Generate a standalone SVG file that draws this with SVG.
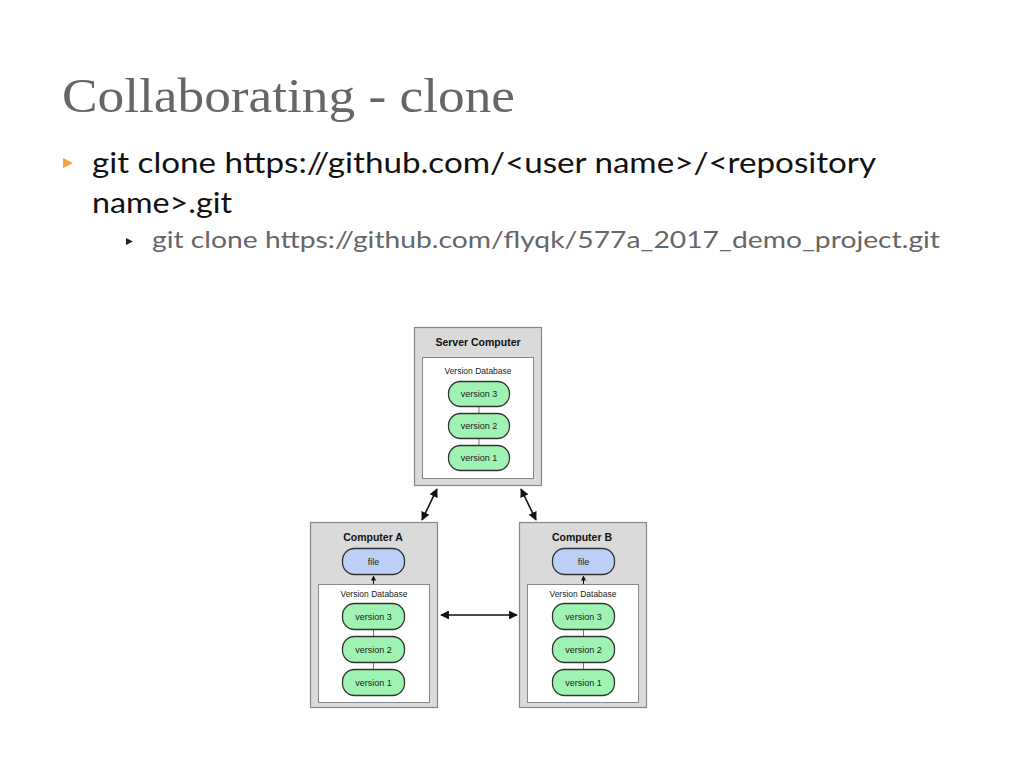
<svg xmlns="http://www.w3.org/2000/svg" width="1024" height="768" viewBox="0 0 1024 768">
<defs>
<style>
.title{font-family:"Liberation Serif","DejaVu Serif",serif;font-size:49px;fill:#666}
.b1{font-family:Lato,"Open Sans",sans-serif;font-size:28px;fill:#111}
.b2{font-family:Lato,"Open Sans",sans-serif;font-size:24px;fill:#666}
.outer{fill:#dadada;stroke:#888;stroke-width:1.2}
.inner{fill:#fff;stroke:#888;stroke-width:1}
.ver{fill:#9ef3b2;stroke:#333;stroke-width:1.3}
.file{fill:#bcd0f7;stroke:#333;stroke-width:1.3}
.h{font-family:"Liberation Sans",Arial,sans-serif;font-size:10.5px;font-weight:bold;fill:#111;text-anchor:middle}
.db{font-family:"Liberation Sans",Arial,sans-serif;font-size:8.5px;fill:#222;text-anchor:middle}
.pt{font-family:"Liberation Sans",Arial,sans-serif;font-size:9px;fill:#222;text-anchor:middle}
.link{stroke:#777;stroke-width:1}
.arr{stroke:#111;stroke-width:1.6;fill:none;marker-start:url(#ah);marker-end:url(#ah)}
.sarr{stroke:#111;stroke-width:1;fill:none;marker-end:url(#sh)}
</style>
<marker id="ah" viewBox="0 0 10 10" refX="9" refY="5" markerWidth="5.5" markerHeight="5.5" orient="auto-start-reverse" markerUnits="strokeWidth">
<path d="M0,0 L10,5 L0,10 Z" fill="#111"/>
</marker>
<marker id="sh" viewBox="0 0 10 10" refX="9" refY="5" markerWidth="5" markerHeight="5" orient="auto" markerUnits="strokeWidth">
<path d="M0,0 L10,5 L0,10 Z" fill="#111"/>
</marker>
</defs>
<rect width="1024" height="768" fill="#fff"/>

<text class="title" x="62" y="112" textLength="453" lengthAdjust="spacingAndGlyphs">Collaborating - clone</text>

<path d="M63,158 L73,163 L63,168 Z" fill="#f5a33a"/>
<text class="b1" x="92" y="173" textLength="784" lengthAdjust="spacingAndGlyphs">git clone https://github.com/&lt;user name&gt;/&lt;repository</text>
<text class="b1" x="92" y="213" textLength="140" lengthAdjust="spacingAndGlyphs">name&gt;.git</text>
<path d="M126,238 L133,241.5 L126,245 Z" fill="#222"/>
<text class="b2" x="152" y="248" textLength="788" lengthAdjust="spacingAndGlyphs">git clone https://github.com/flyqk/577a_2017_demo_project.git</text>

<g id="server">
<rect class="outer" x="414.5" y="327.5" width="127" height="158"/>
<text class="h" x="478" y="346">Server Computer</text>
<rect class="inner" x="422.5" y="357.5" width="111" height="121"/>
<text class="db" x="478" y="374">Version Database</text>
<line class="link" x1="479" y1="407" x2="479" y2="413"/>
<line class="link" x1="479" y1="439" x2="479" y2="445"/>
<rect class="ver" x="448.5" y="381.5" width="61" height="25" rx="12"/>
<text class="pt" x="479" y="397">version 3</text>
<rect class="ver" x="448.5" y="413.5" width="61" height="25" rx="12"/>
<text class="pt" x="479" y="429">version 2</text>
<rect class="ver" x="448.5" y="445.5" width="61" height="25" rx="12"/>
<text class="pt" x="479" y="461">version 1</text>
</g>

<g id="computerA">
<rect class="outer" x="310.5" y="522.5" width="127" height="185"/>
<text class="h" x="373" y="541">Computer A</text>
<rect class="file" x="342.5" y="548.5" width="62" height="26" rx="12"/>
<text class="pt" x="373.5" y="565">file</text>
<rect class="inner" x="318.5" y="584.5" width="111" height="118"/>
<text class="db" x="374" y="597">Version Database</text>
<line class="link" x1="373.5" y1="630" x2="373.5" y2="636"/>
<line class="link" x1="373.5" y1="663" x2="373.5" y2="669"/>
<rect class="ver" x="342.5" y="603.5" width="62" height="26" rx="12"/>
<text class="pt" x="373.5" y="620">version 3</text>
<rect class="ver" x="342.5" y="636.5" width="62" height="26" rx="12"/>
<text class="pt" x="373.5" y="653">version 2</text>
<rect class="ver" x="342.5" y="669.5" width="62" height="26" rx="12"/>
<text class="pt" x="373.5" y="686">version 1</text>
</g>

<g id="computerB">
<rect class="outer" x="519.5" y="522.5" width="127" height="185"/>
<text class="h" x="582" y="541">Computer B</text>
<rect class="file" x="552.5" y="548.5" width="62" height="26" rx="12"/>
<text class="pt" x="583.5" y="565">file</text>
<rect class="inner" x="527.5" y="584.5" width="111" height="118"/>
<text class="db" x="583" y="597">Version Database</text>
<line class="link" x1="583.5" y1="630" x2="583.5" y2="636"/>
<line class="link" x1="583.5" y1="663" x2="583.5" y2="669"/>
<rect class="ver" x="552.5" y="603.5" width="62" height="26" rx="12"/>
<text class="pt" x="583.5" y="620">version 3</text>
<rect class="ver" x="552.5" y="636.5" width="62" height="26" rx="12"/>
<text class="pt" x="583.5" y="653">version 2</text>
<rect class="ver" x="552.5" y="669.5" width="62" height="26" rx="12"/>
<text class="pt" x="583.5" y="686">version 1</text>
</g>

<g id="connectors">
<line class="arr" x1="437" y1="489" x2="422" y2="520"/>
<line class="arr" x1="521" y1="489" x2="536" y2="520"/>
<line class="arr" x1="441" y1="615" x2="517" y2="615"/>
<line class="sarr" x1="373.5" y1="584" x2="373.5" y2="576"/>
<line class="sarr" x1="583.5" y1="584" x2="583.5" y2="576"/>
</g>
</svg>
